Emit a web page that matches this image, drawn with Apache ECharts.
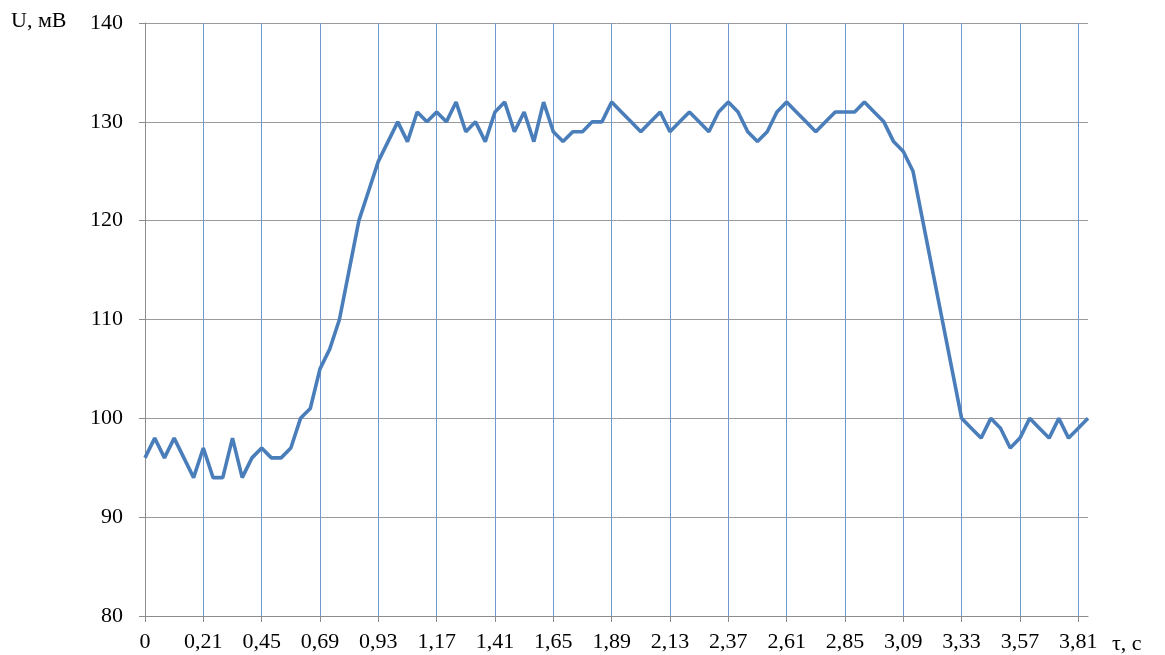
<!DOCTYPE html>
<html>
<head>
<meta charset="utf-8">
<title>U(τ)</title>
<script src="https://cdn.jsdelivr.net/npm/echarts@6/dist/echarts.min.js"></script>
<style>
    html, body { margin: 0; padding: 0; background: #fff; }
    #chart { width: 1165px; height: 655px; }
</style>
</head>
<body>
<div id="chart"></div>
<script>
// Tick labels on the time axis (one label every 6 samples)
const tickLabels = ['0', '0,21', '0,45', '0,69', '0,93', '1,17', '1,41', '1,65', '1,89',
    '2,13', '2,37', '2,61', '2,85', '3,09', '3,33', '3,57', '3,81'];

// Measured voltage, mV
const voltage = [
    96, 98, 96, 98, 96, 94, 97, 94, 94, 98, 94, 96, 97, 96, 96, 97,
    100, 101, 105, 107, 110, 115, 120, 123, 126, 128, 130, 128, 131, 130, 131, 130,
    132, 129, 130, 128, 131, 132, 129, 131, 128, 132, 129, 128, 129, 129, 130, 130,
    132, 131, 130, 129, 130, 131, 129, 130, 131, 130, 129, 131, 132, 131, 129, 128,
    129, 131, 132, 131, 130, 129, 130, 131, 131, 131, 132, 131, 130, 128, 127, 125,
    120, 115, 110, 105, 100, 99, 98, 100, 99, 97, 98, 100, 99, 98, 100, 98,
    99, 100
];

const yTicks = [80, 90, 100, 110, 120, 130, 140];
const samples = voltage.map((_, i) => String(i));
const step = 6;

document.addEventListener('DOMContentLoaded', () => {
    const chart = echarts.init(document.getElementById('chart'));
    const font = '"Liberation Serif", "DejaVu Serif", serif';

    chart.setOption({
        animation: false,
        grid: { left: 145, right: 77, top: 23, bottom: 39, containLabel: false },
        xAxis: {
            type: 'category',
            data: samples,
            boundaryGap: false,
            axisLine: { lineStyle: { color: '#8c8c8c', width: 1 } },
            axisTick: { show: true, interval: step - 1, length: 6, lineStyle: { color: '#8c8c8c' } },
            axisLabel: {
                interval: step - 1,
                margin: 15,
                color: '#000',
                fontFamily: font,
                fontSize: 22,
                formatter: (value, index) => tickLabels[index / step] || ''
            },
            splitLine: { show: true, interval: step - 1, lineStyle: { color: '#7099cf', width: 1 } }
        },
        yAxis: {
            type: 'value',
            min: yTicks[0],
            max: yTicks[yTicks.length - 1],
            interval: 10,
            axisLine: { show: true, lineStyle: { color: '#8c8c8c', width: 1 } },
            axisTick: { show: true, length: 6, lineStyle: { color: '#8c8c8c' } },
            axisLabel: { margin: 22, color: '#000', fontFamily: font, fontSize: 22 },
            splitLine: { lineStyle: { color: '#9a9a9a', width: 1 } }
        },
        graphic: [
            { type: 'text', x: 11, y: 21, style: { text: 'U, мВ', fontFamily: font, fontSize: 22, fill: '#000', verticalAlign: 'middle' } },
            { type: 'text', x: 1112, y: 644, style: { text: 'τ, с', fontFamily: font, fontSize: 22, fill: '#000', verticalAlign: 'middle' } }
        ],
        series: [{
            type: 'line',
            data: voltage,
            showSymbol: false,
            smooth: false,
            lineStyle: { color: '#4a7ebb', width: 3.6 },
            itemStyle: { color: '#4a7ebb' }
        }]
    });
});
</script>
</body>
</html>
